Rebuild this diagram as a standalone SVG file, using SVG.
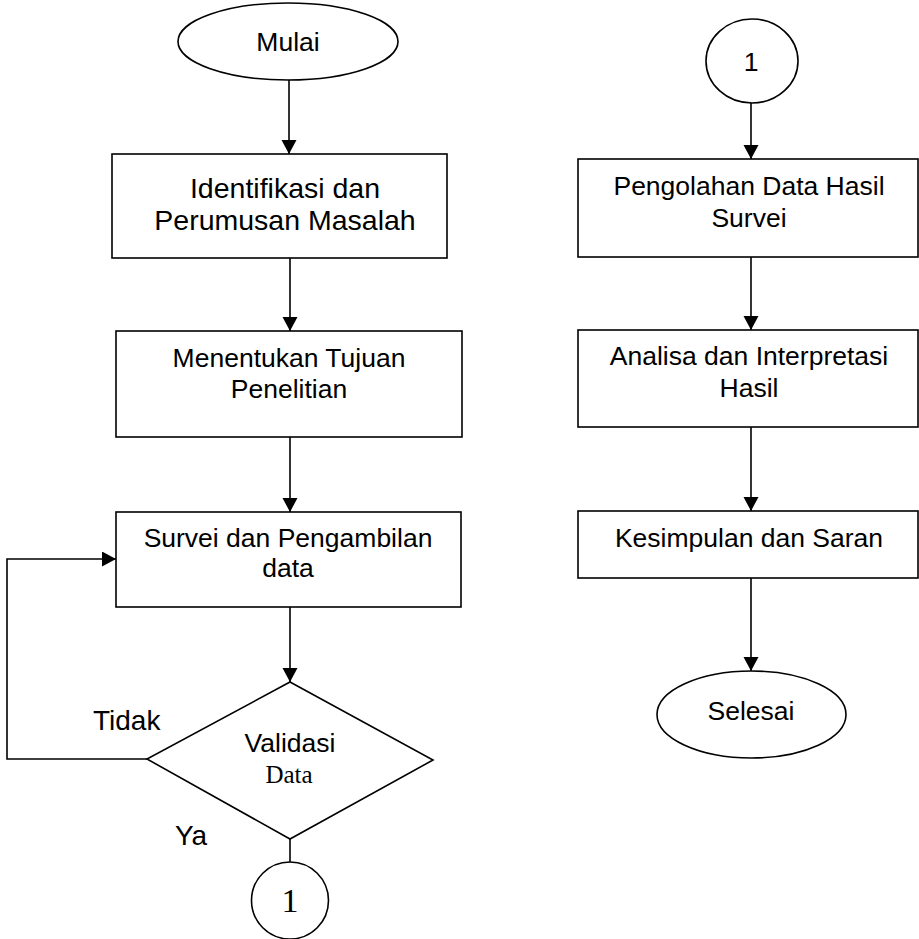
<svg xmlns="http://www.w3.org/2000/svg" width="919" height="939" viewBox="0 0 919 939">
<style>
.s{fill:#fff;stroke:#000;stroke-width:1.6}
.c{fill:none;stroke:#000;stroke-width:1.6}
.t{font-family:"Liberation Sans",Arial,sans-serif;font-size:26.5px;fill:#000;text-anchor:middle}
.big{font-size:28.5px}
.lbl{font-family:"Liberation Sans",Arial,sans-serif;font-size:28px;fill:#000}
.sf{font-family:"Liberation Serif","Times New Roman",serif;fill:#000;text-anchor:middle}
</style>
<defs>
<marker id="ah" markerWidth="16" markerHeight="16" refX="14" refY="7.5" orient="auto" markerUnits="userSpaceOnUse">
<path d="M0,0 L14,7.5 L0,15 Z" fill="#000"/>
</marker>
</defs>
<rect width="919" height="939" fill="#fff"/>
<g id="connectors">
<line class="c" x1="289" y1="80" x2="289" y2="154" marker-end="url(#ah)"/>
<line class="c" x1="290" y1="258" x2="290" y2="331" marker-end="url(#ah)"/>
<line class="c" x1="290" y1="437" x2="290" y2="512" marker-end="url(#ah)"/>
<line class="c" x1="290" y1="607" x2="290" y2="682" marker-end="url(#ah)"/>
<polyline class="c" points="147,759 7,759 7,559 116,559" marker-end="url(#ah)"/>
<line class="c" x1="290" y1="839" x2="290" y2="863"/>
<line class="c" x1="751" y1="103" x2="751" y2="159" marker-end="url(#ah)"/>
<line class="c" x1="751" y1="257" x2="751" y2="330" marker-end="url(#ah)"/>
<line class="c" x1="751" y1="427" x2="751" y2="511" marker-end="url(#ah)"/>
<line class="c" x1="751" y1="578" x2="751" y2="671" marker-end="url(#ah)"/>
<text class="lbl" x="93" y="730">Tidak</text>
<text class="lbl" x="175" y="845">Ya</text>
</g>
<g id="mulai">
<ellipse class="s" cx="288" cy="41.5" rx="110" ry="38.5"/>
<text class="t" x="288" y="51">Mulai</text>
</g>
<g id="identifikasi">
<rect class="s" x="112" y="154" width="335" height="104"/>
<text class="t big" x="285" y="198">Identifikasi dan</text>
<text class="t big" x="285" y="230">Perumusan Masalah</text>
</g>
<g id="tujuan">
<rect class="s" x="116" y="331" width="346" height="106"/>
<text class="t" x="289" y="367">Menentukan Tujuan</text>
<text class="t" x="289" y="398">Penelitian</text>
</g>
<g id="survei">
<rect class="s" x="116" y="512" width="345" height="95"/>
<text class="t" x="288" y="547">Survei dan Pengambilan</text>
<text class="t" x="288" y="577">data</text>
</g>
<g id="validasi">
<polygon class="s" points="290,682 433,760 290,839 147,759"/>
<text class="t" x="290" y="752">Validasi</text>
<text class="sf" x="289" y="783" font-size="25">Data</text>
</g>
<g id="konektor1a">
<circle class="s" cx="290" cy="900.5" r="38.5"/>
<text class="sf" x="290" y="912" font-size="34">1</text>
</g>
<g id="konektor1b">
<ellipse class="s" cx="752" cy="61" rx="46" ry="42"/>
<text class="t" x="751" y="71" font-size="32">1</text>
</g>
<g id="pengolahan">
<rect class="s" x="578" y="159" width="340" height="98"/>
<text class="t" x="749" y="195">Pengolahan Data Hasil</text>
<text class="t" x="749" y="227">Survei</text>
</g>
<g id="analisa">
<rect class="s" x="578" y="330" width="340" height="97"/>
<text class="t" x="749" y="365">Analisa dan Interpretasi</text>
<text class="t" x="749" y="397">Hasil</text>
</g>
<g id="kesimpulan">
<rect class="s" x="578" y="511" width="340" height="67"/>
<text class="t" x="749" y="547">Kesimpulan dan Saran</text>
</g>
<g id="selesai">
<ellipse class="s" cx="751.5" cy="714.5" rx="94.5" ry="43.5"/>
<text class="t" x="751" y="720">Selesai</text>
</g>
</svg>
